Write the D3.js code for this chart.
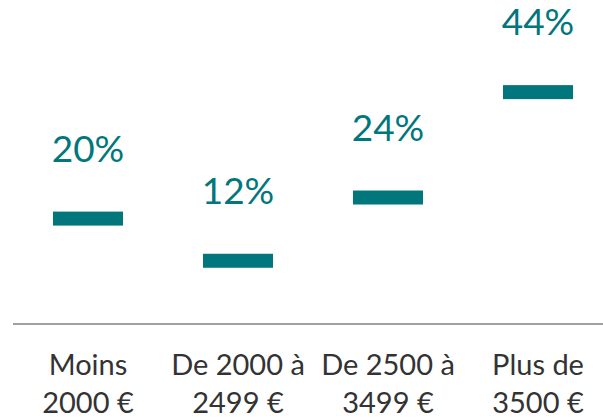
<!DOCTYPE html>
<html>
<head>
<meta charset="utf-8">
<script src="https://cdn.jsdelivr.net/npm/d3@7"></script>
<style>
  body { margin: 0; background: #fff; }
  svg { display: block; font-family: Lato, "Open Sans", sans-serif; }
</style>
</head>
<body>
<svg id="chart"></svg>
<script>
// chart data
const categories = ["Moins 2000 €", "De 2000 à 2499 €", "De 2500 à 3499 €", "Plus de 3500 €"];
const labelLines = [["Moins", "2000 €"], ["De 2000 à", "2499 €"], ["De 2500 à", "3499 €"], ["Plus de", "3500 €"]];
const values = [20, 12, 24, 44];

const width = 603, height = 418;
const teal = "#02767d";

const svg = d3.select("#chart").attr("width", width).attr("height", height);

// scales
const x = d3.scaleBand().domain(categories).range([13, 613]);
const y = d3.scaleLinear().domain([0, 50]).range([324, 324 - 50 * 5.27]);

const data = categories.map((c, i) => ({cat: c, value: values[i], lines: labelLines[i]}));

// baseline axis
svg.append("line")
    .attr("x1", 13).attr("x2", width)
    .attr("y1", y(0)).attr("y2", y(0))
    .attr("stroke", "#a0a0a0")
    .attr("stroke-width", 2);

// markers
const markerW = 70, markerH = 14;
svg.append("g").selectAll("rect").data(data).join("rect")
    .attr("x", d => x(d.cat) + x.bandwidth() / 2 - markerW / 2)
    .attr("y", d => y(d.value) - markerH / 2)
    .attr("width", markerW)
    .attr("height", markerH)
    .attr("fill", teal);

// value labels
svg.append("g").selectAll("text").data(data).join("text")
    .attr("x", d => x(d.cat) + x.bandwidth() / 2)
    .attr("y", d => y(d.value) - 57)
    .attr("text-anchor", "middle")
    .attr("font-size", 37)
    .attr("fill", teal)
    .text(d => d.value + "%");

// category labels
const catText = svg.append("g").selectAll("text").data(data).join("text")
    .attr("text-anchor", "middle")
    .attr("font-size", 29)
    .attr("fill", "#333");
catText.selectAll("tspan").data(d => d.lines.map(l => ({l, cx: x(d.cat) + x.bandwidth() / 2}))).join("tspan")
    .attr("x", d => d.cx)
    .attr("y", (d, i) => 375 + i * 38)
    .text(d => d.l);
</script>
</body>
</html>
